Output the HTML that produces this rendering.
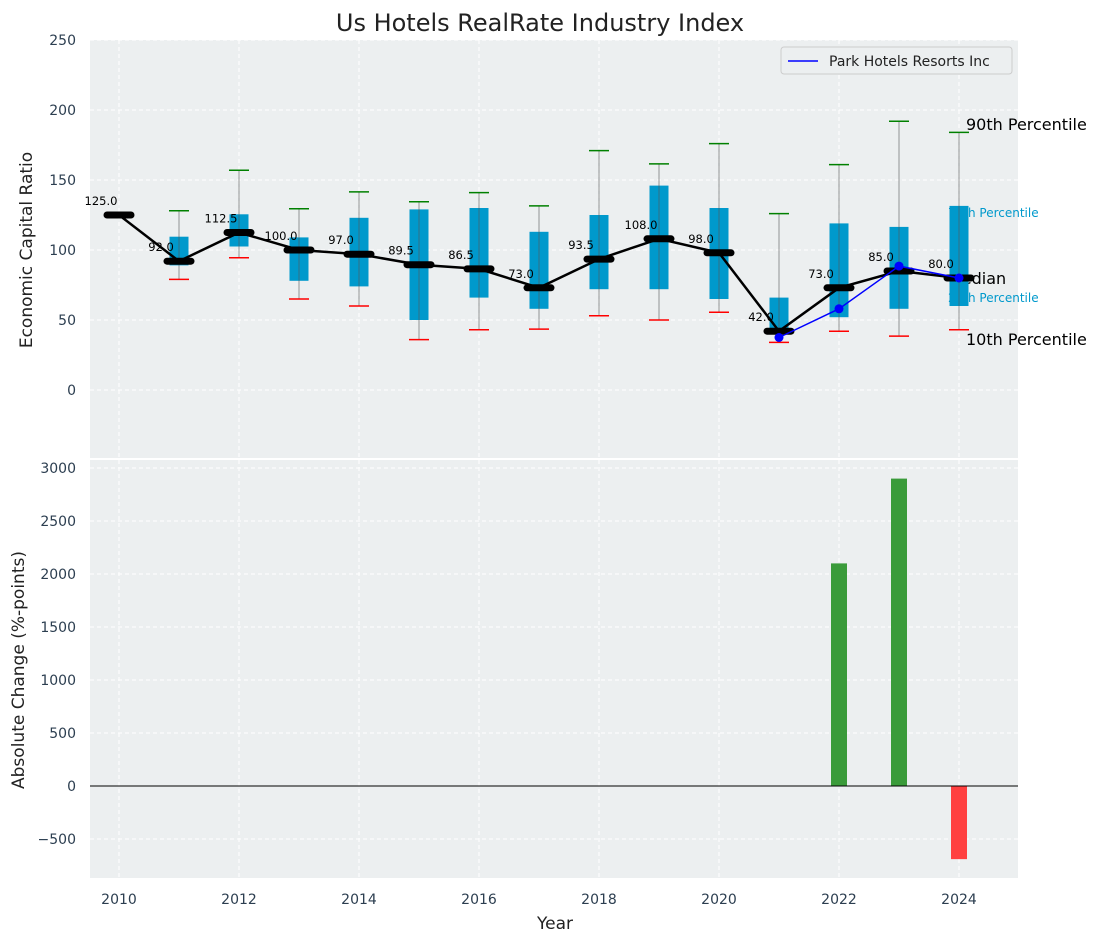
<!DOCTYPE html>
<html><head><meta charset="utf-8"><style>
body{margin:0;background:#fff;font-family:"DejaVu Sans","Liberation Sans",sans-serif;}
svg text{font-family:"DejaVu Sans","Liberation Sans",sans-serif;}
</style></head><body>
<svg id="chart" width="1101" height="942" xmlns="http://www.w3.org/2000/svg">
<text x="540" y="31" font-size="24" text-anchor="middle" fill="#222">Us Hotels RealRate Industry Index</text>
<rect x="90" y="40" width="928" height="418" fill="#eceff0"/>
<rect x="90" y="460" width="928" height="418" fill="#eceff0"/>
<g id="grid"></g>
<text x="966" y="130" font-size="16" fill="#000">90th Percentile</text>
<text x="948" y="217" font-size="12" fill="#0099cc">75th Percentile</text>
<text x="948" y="284" font-size="16" fill="#000">Median</text>
<text x="948" y="302" font-size="12" fill="#0099cc">25th Percentile</text>
<text x="966" y="345" font-size="16" fill="#000">10th Percentile</text>
<g id="top"></g><g id="bot"></g><g id="ticks"></g>
<text x="32" y="250" font-size="17" text-anchor="middle" transform="rotate(-90 32 250)" fill="#222">Economic Capital Ratio</text>
<text x="24" y="670" font-size="17" text-anchor="middle" transform="rotate(-90 24 670)" fill="#222">Absolute Change (%-points)</text>
<text x="555" y="929" font-size="17" text-anchor="middle" fill="#222">Year</text>
<g>
<rect x="781" y="47" width="231" height="27" rx="3" fill="#eceff0" stroke="#ccc"/>
<line x1="788" y1="61" x2="818" y2="61" stroke="#0000ff" stroke-width="1.5"/>
<text x="829" y="66" font-size="14" fill="#222">Park Hotels Resorts Inc</text>
</g>
</svg>
<script>
const years=[2010,2011,2012,2013,2014,2015,2016,2017,2018,2019,2020,2021,2022,2023,2024];
const medians=[125,92,112.5,100,97,89.5,86.5,73,93.5,108,98,42,73,85,80];
const p90=[null,128,157,129.5,141.5,134.5,141,131.5,171,161.5,176,126,161,192,184];
const p75=[null,109.5,125.5,109,123,129,130,113,125,146,130,66,119,116.5,131.5];
const p25=[null,89,102.5,78,74,50,66,58,72,72,65,40,52,58,60];
const p10=[null,79,94.5,65,60,36,43,43.5,53,50,55.5,34,42,38.5,43];
const companyYears=[2021,2022,2023,2024];
const companyVals=[37.5,58,88.5,80];
const changeYears=[2022,2023,2024];
const changeVals=[2100,2900,-690];
const xTicks=[2010,2012,2014,2016,2018,2020,2022,2024];
const topTicks=[0,50,100,150,200,250];
const botTicks=[-500,0,500,1000,1500,2000,2500,3000];

const NS="http://www.w3.org/2000/svg";
const X=v=>119+(v-2010)*60;
const YT=v=>390-v*1.4;
const YB=v=>786-v*0.106;
function mk(p,t,a){const e=document.createElementNS(NS,t);for(const k in a)e.setAttribute(k,a[k]);p.appendChild(e);return e;}
const G=document.getElementById('grid'),T=document.getElementById('top'),B=document.getElementById('bot'),K=document.getElementById('ticks');
xTicks.forEach(t=>{
  let l=mk(G,'line',{x1:X(t),x2:X(t),y1:40,y2:458,stroke:'#fff','stroke-dasharray':'4 3'});
  
  
  let l2=mk(G,'line',{x1:X(t),x2:X(t),y1:460,y2:878,stroke:'#fff','stroke-dasharray':'4 3'});
  
  
  let tx=mk(K,'text',{x:X(t),y:904,'font-size':14,'text-anchor':'middle',fill:'#2c3e50'});tx.textContent=t;
  
  
});
topTicks.forEach(t=>{
  let l=mk(G,'line',{x1:90,x2:1018,y1:YT(t),y2:YT(t),stroke:'#fff','stroke-dasharray':'4 3'});
  
  
  let tx=mk(K,'text',{x:76,y:YT(t)+5,'font-size':14,'text-anchor':'end',fill:'#2c3e50'});tx.textContent=t;
  
  
});
botTicks.forEach(t=>{
  let l=mk(G,'line',{x1:90,x2:1018,y1:YB(t),y2:YB(t),stroke:'#fff','stroke-dasharray':'4 3'});
  
  
  let tx=mk(K,'text',{x:76,y:YB(t)+5,'font-size':14,'text-anchor':'end',fill:'#2c3e50'});tx.textContent=t<0?'\u2212'+(-t):t;
  
  
});
years.forEach((y,i)=>{
  if(p90[i]==null)return;
  const x=X(y);
  let b=mk(T,'rect',{x:x-9.5,y:YT(p75[i]),width:19,height:YT(p25[i])-YT(p75[i]),fill:'#0099cc'});
  
  
  let w=mk(T,'line',{x1:x,x2:x,y1:YT(p10[i]),y2:YT(p90[i]),stroke:'#555','stroke-width':1,'stroke-opacity':0.6});
  
  
  let c1=mk(T,'line',{x1:x-10,x2:x+10,y1:YT(p90[i]),y2:YT(p90[i]),stroke:'green','stroke-width':1.5});
  
  
  let c2=mk(T,'line',{x1:x-10,x2:x+10,y1:YT(p10[i]),y2:YT(p10[i]),stroke:'red','stroke-width':1.5});
  
  
});
let ml=mk(T,'polyline',{points:years.map((y,i)=>X(y)+','+YT(medians[i])).join(' '),fill:'none',stroke:'#000','stroke-width':2.5});


years.forEach((y,i)=>{
  const x=X(y),yy=YT(medians[i]);
  let m=mk(T,'line',{x1:x-12,x2:x+12,y1:yy,y2:yy,stroke:'#000','stroke-width':7,'stroke-linecap':'round'});
  
  
  let t=mk(T,'text',{x:x-18,y:yy-10,'font-size':11.5,'text-anchor':'middle',fill:'#000'});t.textContent=medians[i].toFixed(1);
  
  
});
let cl=mk(T,'polyline',{points:companyYears.map((y,i)=>X(y)+','+YT(companyVals[i])).join(' '),fill:'none',stroke:'#0000ff','stroke-width':1.5});


companyYears.forEach((y,i)=>{
  let c=mk(T,'circle',{cx:X(y),cy:YT(companyVals[i]),r:4.5,fill:'#0000ff'});
  
  
});
changeYears.forEach((y,i)=>{
  const v=changeVals[i],y0=YB(0),y1=YB(v);
  let r=mk(B,'rect',{x:X(y)-8,y:Math.min(y0,y1),width:16,height:Math.abs(y1-y0),fill:v>=0?'#3a9b3a':'#ff4040'});
  
  
});
let z=mk(B,'line',{x1:90,x2:1018,y1:YB(0),y2:YB(0),stroke:'#000','stroke-width':1});


</script>
</body></html>
